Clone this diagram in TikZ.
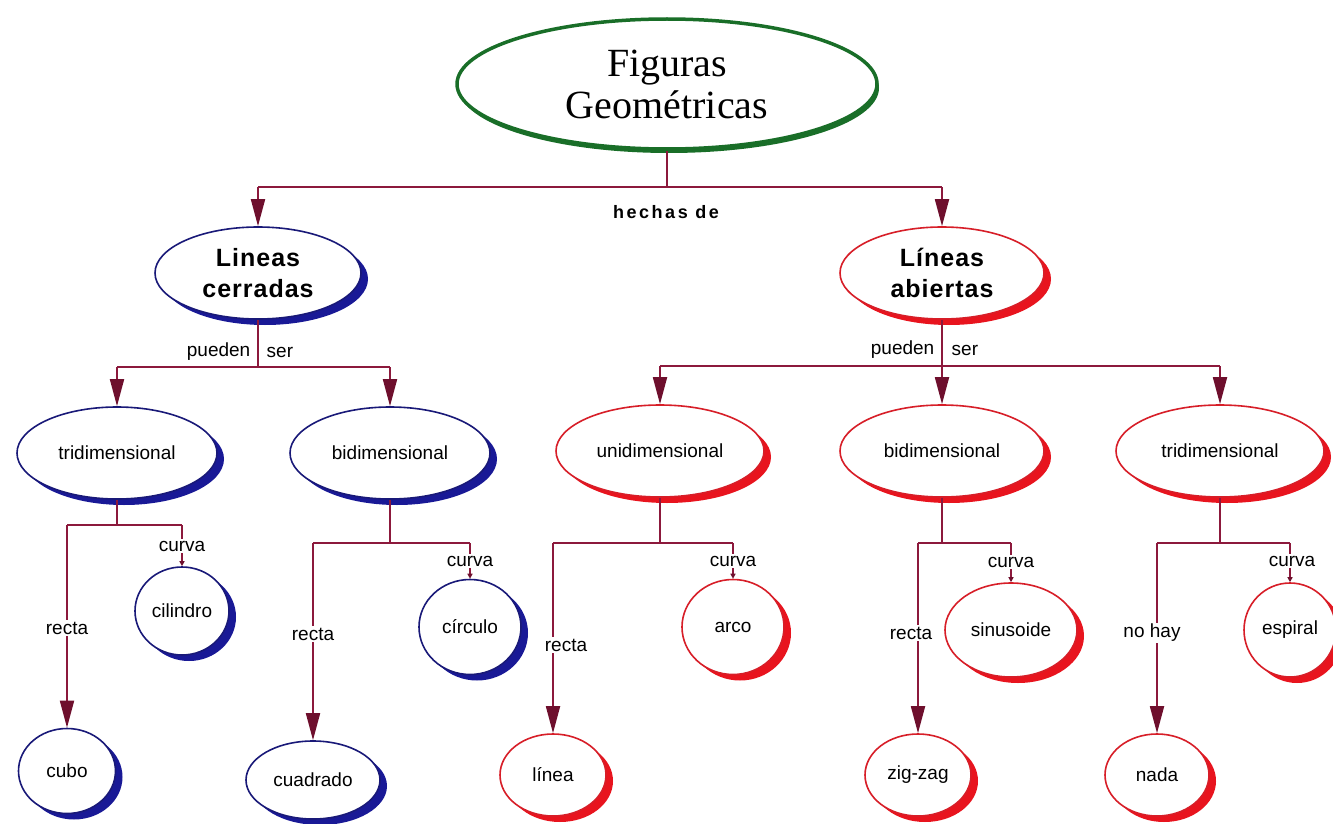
\documentclass[tikz,border=0pt]{standalone}
\usepackage{fontspec}
\setmainfont{Liberation Serif}
\setsansfont{Liberation Sans}
\usetikzlibrary{shapes.geometric,arrows.meta,shadows}
\definecolor{bluel}{RGB}{25,25,120}
\definecolor{bluesh}{RGB}{25,25,150}
\definecolor{redl}{RGB}{215,30,40}
\definecolor{redsh}{RGB}{232,20,30}
\definecolor{greenl}{RGB}{25,110,40}
\definecolor{conn}{RGB}{140,25,60}
\definecolor{arrc}{RGB}{110,15,45}
\begin{document}
\begin{tikzpicture}[x=1pt,y=-1pt,
 ell/.style={ellipse, inner sep=0pt, fill=white, line width=1.6pt,
   font=\sffamily\fontsize{19}{22}\selectfont},
 blueell/.style={ell, draw=bluel,
   drop shadow={shadow xshift=7pt, shadow yshift=-6pt, fill=bluesh, opacity=1}},
 redell/.style={ell, draw=redl,
   drop shadow={shadow xshift=7pt, shadow yshift=-6pt, fill=redsh, opacity=1}},
 greenell/.style={ellipse, inner sep=0pt, fill=white, draw=greenl, line width=3.5pt,
   drop shadow={shadow xshift=2pt, shadow yshift=-4pt, fill=greenl, opacity=1}},
 bigtxt/.style={font=\sffamily\bfseries\fontsize{25}{31}\selectfont\addfontfeature{LetterSpace=4}, align=center},
 lvl/.style={minimum width=200pt, minimum height=92pt},
 link/.style={draw=conn, line width=1.8pt},
 arrowlink/.style={link, -{Triangle[length=27pt,width=14pt,color=arrc]}},
 smalllink/.style={link, -{Triangle[length=5pt,width=5pt,color=arrc]}},
 lbl/.style={font=\sffamily\fontsize{19}{22}\selectfont, inner sep=1.5pt},
 wlbl/.style={lbl, fill=white},
]
\useasboundingbox (0,0) rectangle (1333,824);

% ---- title
\node[greenell, minimum width=420pt, minimum height=130pt,
      font=\fontsize{40}{42}\selectfont, align=center] (fg) at (667,84) {Figuras\\Geométricas};

% ---- level 1
\node[blueell, bigtxt, minimum width=206pt, minimum height=92pt] (lc) at (258,273) {Lineas\\cerradas};
\node[redell, bigtxt, minimum width=204pt, minimum height=92pt] (la) at (942,273) {Líneas\\abiertas};

% ---- level 2
\node[blueell, lvl] (t1) at (117,453) {tridimensional};
\node[blueell, lvl] (b1) at (390,453) {bidimensional};
\node[redell, lvl, minimum width=208pt] (u2) at (660,451) {unidimensional};
\node[redell, lvl, minimum width=204pt] (b2) at (942,451) {bidimensional};
\node[redell, lvl, minimum width=208pt] (t2) at (1220,451) {tridimensional};

% ---- level 3
\node[blueell, minimum width=94pt, minimum height=88pt] (cil) at (182,611) {cilindro};
\node[blueell, minimum width=97pt, minimum height=85pt] (cubo) at (67,771) {cubo};
\node[blueell, minimum width=102pt, minimum height=95pt] (circ) at (470,627) {círculo};
\node[blueell, minimum width=134pt, minimum height=78pt] (cuad) at (313,780) {cuadrado};
\node[redell, minimum width=102pt, minimum height=95pt] (arco) at (733,627) {arco};
\node[redell, minimum width=106pt, minimum height=82pt] (linea) at (553,775) {línea};
\node[redell, minimum width=132pt, minimum height=94pt] (sin) at (1011,630) {sinusoide};
\node[redell, minimum width=106pt, minimum height=82pt] (zig) at (918,775) {zig-zag};
\node[redell, minimum width=92pt, minimum height=94pt] (esp) at (1290,630) {espiral};
\node[redell, minimum width=104pt, minimum height=82pt] (nada) at (1157,775) {nada};

% ---- connectors: title -> level 1
\coordinate (j0) at (667,187);
\draw[link] (fg.south) -- (j0);
\draw[link] (j0 -| lc.north) -- (j0 -| la.north);
\draw[arrowlink] (j0 -| lc.north) -- (lc.north);
\draw[arrowlink] (j0 -| la.north) -- (la.north);
\node[font=\sffamily\bfseries\fontsize{18}{20}\selectfont\addfontfeature{LetterSpace=14}] (hd) at (666,212) {hechas de};

% ---- lc -> t1, b1
\coordinate (j1) at (258,367);
\draw[link] (lc.south) -- (j1);
\draw[link] (j1 -| t1.north) -- (j1 -| b1.north);
\draw[arrowlink] (j1 -| t1.north) -- (t1.north);
\draw[arrowlink] (j1 -| b1.north) -- (b1.north);
\node[lbl, anchor=east] (p1) at (252,352) {pueden};
\node[lbl, anchor=west] (s1) at (265,352) {ser};

% ---- la -> u2, b2, t2
\coordinate (j2) at (942,366);
\draw[link] (la.south) -- (j2);
\draw[link] (j2 -| u2.north) -- (j2 -| t2.north);
\draw[arrowlink] (j2 -| u2.north) -- (u2.north);
\draw[arrowlink] (j2 -| b2.north) -- (b2.north);
\draw[arrowlink] (j2 -| t2.north) -- (t2.north);
\node[lbl, anchor=east] (p2) at (936,350) {pueden};
\node[lbl, anchor=west] (s2) at (950,350) {ser};

% ---- t1 -> cubo, cilindro
\coordinate (k1) at (117,525);
\draw[link] (t1.south) -- (k1);
\draw[link] (k1 -| cubo.north) -- (k1 -| cil.north);
\draw[arrowlink] (k1 -| cubo.north) -- (cubo.north);
\draw[smalllink] (k1 -| cil.north) -- (cil.north);
\node[wlbl] (r1) at (67,628) {recta};
\node[wlbl] (c1) at (182,546) {curva};

% ---- b1 -> cuadrado, circulo
\coordinate (k2) at (390,543);
\draw[link] (b1.south) -- (k2);
\draw[link] (k2 -| cuad.north) -- (k2 -| circ.north);
\draw[arrowlink] (k2 -| cuad.north) -- (cuad.north);
\draw[smalllink] (k2 -| circ.north) -- (circ.north);
\node[wlbl] (r2) at (313,634) {recta};
\node[wlbl] (c2) at (470,561) {curva};

% ---- u2 -> linea, arco
\coordinate (k3) at (660,543);
\draw[link] (u2.south) -- (k3);
\draw[link] (k3 -| linea.north) -- (k3 -| arco.north);
\draw[arrowlink] (k3 -| linea.north) -- (linea.north);
\draw[smalllink] (k3 -| arco.north) -- (arco.north);
\node[wlbl] (r3) at (566,645) {recta};
\node[wlbl] (c3) at (733,561) {curva};

% ---- b2 -> zig-zag, sinusoide
\coordinate (k4) at (942,543);
\draw[link] (b2.south) -- (k4);
\draw[link] (k4 -| zig.north) -- (k4 -| sin.north);
\draw[arrowlink] (k4 -| zig.north) -- (zig.north);
\draw[smalllink] (k4 -| sin.north) -- (sin.north);
\node[wlbl] (r4) at (911,633) {recta};
\node[wlbl] (c4) at (1011,562) {curva};

% ---- t2 -> nada, espiral
\coordinate (k5) at (1220,543);
\draw[link] (t2.south) -- (k5);
\draw[link] (k5 -| nada.north) -- (k5 -| esp.north);
\draw[arrowlink] (k5 -| nada.north) -- (nada.north);
\draw[smalllink] (k5 -| esp.north) -- (esp.north);
\node[wlbl] (r5) at (1152,633) {no hay};
\node[wlbl] (c5) at (1292,561) {curva};
\end{tikzpicture}
\end{document}
